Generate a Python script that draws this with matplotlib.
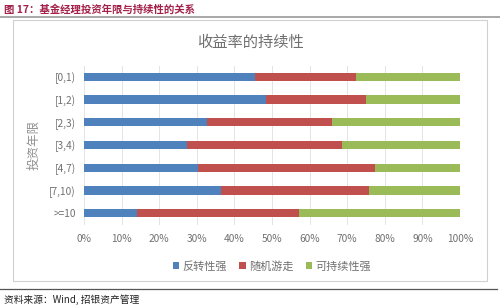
import matplotlib.pyplot as plt
import numpy as np
from matplotlib.patches import Rectangle
from matplotlib.lines import Line2D

plt.rcParams['font.family'] = ['Noto Sans CJK SC', 'DejaVu Sans']

# data (percent of funds)
periods = ['[0,1)', '[1,2)', '[2,3)', '[3,4)', '[4,7)', '[7,10)', '>=10']
reversal = [45.4, 48.3, 32.6, 27.4, 30.4, 36.5, 14.2]
random_walk = [27.0, 26.6, 33.4, 41.3, 46.9, 39.2, 42.9]
persistent = [27.6, 25.1, 34.0, 31.3, 22.7, 24.3, 42.9]
series_names = ['反转性强', '随机游走', '可持续性强']
colors = ['#4F81BD', '#C0504D', '#9BBB59']

fig = plt.figure(figsize=(5.0, 3.07), dpi=100)

# header and frame
fig.text(0.008, 0.968, '图 17：基金经理投资年限与持续性的关系', fontsize=7.5,
         fontweight='bold', color='#A3214A', va='center', ha='left')
fig.add_artist(Line2D([0, 1], [1 - 17 / 307, 1 - 17 / 307], color='#9a9a9a', lw=1.2))
fig.add_artist(Rectangle((13 / 500, 1 - 281 / 307), 474 / 500, 261 / 307,
                         fill=False, edgecolor='#d0d0d0', lw=0.8))
fig.add_artist(Line2D([0, 0.994], [1 - 289 / 307, 1 - 289 / 307], color='#555555', lw=0.9))
fig.text(0.008, 1 - 300 / 307, '资料来源：Wind, 招银资产管理', fontsize=7,
         color='#222222', va='center', ha='left')

fig.text(0.5, 1 - 42 / 307, '收益率的持续性', fontsize=11, color='#707070',
         ha='center', va='center')

ax = fig.add_axes([84 / 500, 1 - 224.5 / 307, 376 / 500, 159 / 307])
y = np.arange(len(periods))
left = np.zeros(len(periods))
for vals, name, c in zip([reversal, random_walk, persistent], series_names, colors):
    ax.barh(y, vals, left=left, height=0.37, color=c, label=name, zorder=3)
    left += np.array(vals)

ax.set_ylim(len(periods) - 0.5, -0.5)
ax.set_xlim(0, 100)
ax.set_yticks(y)
ax.set_yticklabels(periods)
ax.set_xticks(np.arange(0, 101, 10))
ax.set_xticklabels([f'{v}%' for v in range(0, 101, 10)])
ax.tick_params(axis='both', length=0, labelsize=7.3, labelcolor='#707070')
ax.tick_params(axis='x', pad=7)
ax.tick_params(axis='y', pad=6)
ax.grid(axis='x', color='#e4e4e4', lw=0.7, zorder=0)
for s in ax.spines.values():
    s.set_visible(False)
ax.set_ylabel('投资年限', fontsize=9, color='#909090', labelpad=6)

ax.legend(loc='upper center', bbox_to_anchor=(0.5, -0.165), ncol=3, frameon=False,
          fontsize=8, labelcolor='#707070', handlelength=0.55, handleheight=0.55,
          handletextpad=0.3, columnspacing=1.1)

fig.savefig('out.png', dpi=100)
